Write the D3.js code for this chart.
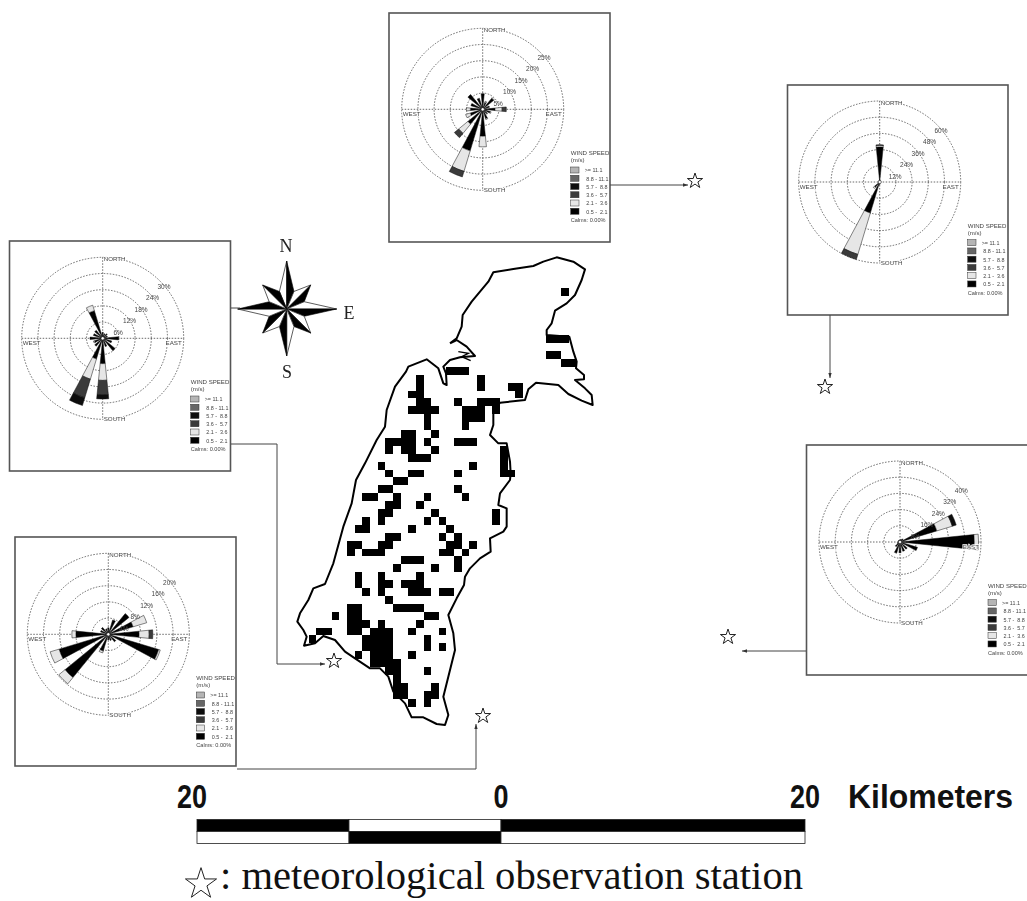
<!DOCTYPE html>
<html>
<head>
<meta charset="utf-8">
<title>Wind roses and study area</title>
<script src="https://cdn.jsdelivr.net/npm/d3@7"></script>
<style>
  html, body { margin: 0; padding: 0; background: #fff; }
  svg { display: block; }
  text { font-family: "Liberation Sans", Arial, sans-serif; }
</style>
</head>
<body>
<svg id="chart" width="1027" height="901"></svg>
<script>
// speed classes, same order as the columns of the rose tables
var speedLabels = [">= 11.1", "8.8 - 11.1", "5.7 -  8.8", "3.6 -  5.7", "2.1 -  3.6", "0.5 -  2.1"];
var speedColors = ["#000", "#e6e6e6", "#3a3a3a", "#111", "#666", "#b5b5b5"];

// percent of time per sector, N then clockwise, columns 0.5-2.1 up to >=11.1
var roseTop = [
  [4.8], [2.2, 0.4], [4.4, 0.2], [2.2], [3.8, 2.2, 1.3], [2.4, 0.3], [1.8, 0.2], [3, 0.3],
  [8.3, 3.3], [13.4, 6.6, 1.8], [5.9, 3.7, 1.7], [4, 1.5], [3.8, 1.2], [3.8], [5.9], [3.6]
];
var roseLeft = [
  [2.2], [1.8], [2.2], [1.8], [5.9], [3.5], [5.9], [3.2],
  [9.4, 6.2, 5.4, 1.5], [8, 7.8, 7.2, 3], [3.8], [3.2, 0.4], [4.7], [3.6], [3.8], [10.7, 2.1]
];
var roseBottomLeft = [
  [1.6], [3.7], [6.6], [6.4, 3.5], [7.6, 2.5, 0.9], [13, 0.4], [2.4], [1.6],
  [1.4], [4.3, 0.5], [13.8, 2], [12.7, 2.3], [8, 1], [2], [2.2], [1.4]
];
var roseRightTop = [
  [26, 1.2, 0.4], [1], [1], [1], [1], [1], [1], [1],
  [2], [24, 32, 4], [5, 1.2], [1], [1], [1], [1], [1]
];
var roseRightBottom = [
  [1], [1.5], [2], [19, 8, 0, 2], [36.7, 2.1], [9], [4.6], [4.8],
  [5.3], [5.8], [3], [1.5], [1], [1], [1], [1]
];
var roseTicksTop = [5, 10, 15, 20, 25];
var roseTicksLeft = [6, 12, 18, 24, 30];
var roseTicksBottomLeft = [4, 8, 12, 16, 20];
var roseTicksRightTop = [12, 24, 36, 48, 60];
var roseTicksRightBottom = [8, 16, 24, 32, 40];

// land cells of the map as [row, columns], counted from one reference cell
var mapCells = [
  [-41, [30]], [-35, [28, 29, 30]], [-33, [28, 29]], [-32, [30, 31]],
  [-31, [15, 16, 17]], [-30, [11, 19]], [-29, [11, 19, 23, 24]], [-28, [10, 11, 24]],
  [-27, [11, 12, 16, 19, 20, 21]], [-26, [10, 11, 12, 13, 17, 18, 19, 21]], [-25, [12, 17, 18, 19]],
  [-24, [12, 17]], [-23, [9, 10, 13]], [-22, [7, 8, 9, 10, 12, 16, 17, 18]], [-21, [7, 9, 10, 13, 22]],
  [-20, [10, 11, 12, 22]], [-19, [6, 18, 22]], [-18, [7, 10, 11, 16, 22, 23]], [-17, [8, 9]],
  [-16, [6, 7, 16]], [-15, [4, 5, 8, 12, 17]], [-14, [7, 8, 11]], [-13, [6, 7, 13, 21]],
  [-12, [4, 6, 12, 14, 21]], [-11, [3, 4, 10, 15]], [-10, [7, 8, 14, 16]], [-9, [2, 3, 6, 7, 15, 16, 18]],
  [-8, [2, 4, 5, 6, 14, 15, 17]], [-7, [9, 10, 11, 16]], [-6, [8, 13, 16]], [-5, [3, 6, 11]],
  [-4, [3, 6, 7, 9, 10, 11]], [-3, [4, 6, 10, 11, 12, 14, 15]], [-2, [7]], [-1, [2, 3, 8, 9, 10, 11]],
  [0, [0, 2, 3, 12, 13]], [1, [2, 3, 4, 6, 11]], [2, [-2, -1, 2, 3, 5, 6, 7, 10, 14]], [3, [-3, 4, 5, 6, 7, 12]],
  [4, [4, 5, 6, 7, 12, 14]], [5, [3, 5, 6, 7, 10]], [6, [5, 6, 7, 8]], [7, [7, 8, 12]],
  [8, [8]], [9, [8, 9, 13]], [10, [8, 9, 12, 13]], [11, [10, 12]]
];

// coastline in map units, clockwise from the bay on the north-west side
var coastline = [
  [510, 310], [530, 295], [545, 260], [548, 225], [575, 185], [600, 155], [625, 125], [640, 97],
  [700, 87], [760, 78], [790, 65], [830, 52], [880, 65], [915, 88], [905, 120], [885, 165],
  [860, 190], [825, 212], [815, 250], [800, 270], [800, 285], [868, 290], [880, 335], [890, 365],
  [888, 385], [912, 405], [912, 418], [885, 420], [915, 445], [935, 465], [938, 495], [905, 482],
  [865, 462], [835, 435], [768, 428], [745, 448], [735, 480], [660, 488], [640, 515], [640, 555],
  [630, 585], [655, 610], [680, 610], [690, 665], [692, 700], [690, 720], [660, 760], [655, 795],
  [680, 805], [680, 860], [670, 875], [630, 895], [632, 935], [600, 955], [570, 985], [555, 1010],
  [552, 1035], [530, 1075], [505, 1125], [520, 1180], [525, 1230], [510, 1290], [490, 1370], [505, 1425],
  [495, 1455], [470, 1452], [430, 1432], [395, 1432], [375, 1390], [340, 1355], [325, 1310], [300, 1285],
  [270, 1285], [225, 1255], [195, 1235], [165, 1200], [130, 1188], [105, 1210], [72, 1217], [80, 1190],
  [70, 1170], [52, 1145], [60, 1120], [85, 1080], [100, 1045], [135, 1032], [160, 970], [190, 860],
  [215, 790], [228, 720], [255, 670], [290, 600], [315, 560], [320, 510], [345, 440], [378, 395],
  [385, 380], [440, 358], [475, 385], [490, 430], [500, 435], [498, 400], [490, 380], [510, 360],
  [540, 352], [585, 348], [560, 320], [530, 300], [510, 310]
];
var bayIslet = [[535, 335], [565, 340], [545, 350], [572, 362]];

var compassLengths = [48, 34, 50, 34, 47, 34, 49, 34];
var scaleSegments = [[-20, -10], [-10, 0], [0, 20]];
var scaleLabels = [-20, 0, 20];

var svg = d3.select("#chart");

var defs = svg.append("defs");
defs.append("filter").attr("id", "soft")
  .append("feGaussianBlur").attr("stdDeviation", 0.35);

var bearingStep = 22.5 * Math.PI / 180;

function drawRose(frame, rows, ticks) {
  var r = d3.scaleLinear().domain([0, ticks[ticks.length - 1]]).range([0, 81]);
  var g = svg.append("g").attr("filter", "url(#soft)");
  g.append("rect")
    .attr("x", frame.x).attr("y", frame.y).attr("width", frame.w).attr("height", frame.h)
    .attr("fill", "#fff").attr("stroke", "#555").attr("stroke-width", 1.6);

  var plot = g.append("g").attr("transform", "translate(" + frame.cx + "," + frame.cy + ")");

  plot.selectAll("circle.ring").data(ticks).join("circle")
    .attr("class", "ring").attr("r", function(d) { return r(d); })
    .attr("fill", "none").attr("stroke", "#444").attr("stroke-width", 0.8).attr("stroke-dasharray", "1.5 1.5");
  plot.append("line").attr("x1", -81).attr("x2", 81)
    .attr("stroke", "#444").attr("stroke-width", 0.8).attr("stroke-dasharray", "1.5 1.5");
  plot.append("line").attr("y1", -81).attr("y2", 81)
    .attr("stroke", "#444").attr("stroke-width", 0.8).attr("stroke-dasharray", "1.5 1.5");

  var arc = d3.arc();
  var wedges = [];
  rows.forEach(function(row, sector) {
    var stops = Array.from(d3.cumsum(row));
    row.forEach(function(v, k) {
      if (v > 0) wedges.push({ sector: sector, k: k, from: k ? stops[k - 1] : 0, to: stops[k] });
    });
  });
  plot.selectAll("path.wedge").data(wedges).join("path")
    .attr("class", "wedge")
    .attr("fill", function(d) { return speedColors[d.k]; })
    .attr("stroke", "#111").attr("stroke-width", 0.5)
    .attr("d", function(d) {
      return arc({
        innerRadius: r(d.from), outerRadius: r(d.to),
        startAngle: d.sector * bearingStep - 0.1, endAngle: d.sector * bearingStep + 0.1
      });
    });
  plot.append("circle").attr("r", 1.6).attr("fill", "#fff").attr("stroke", "#222").attr("stroke-width", 0.5);

  plot.selectAll("text.tick").data(ticks).join("text")
    .attr("class", "tick")
    .attr("x", function(d) { return r(d) * Math.SQRT1_2 + 4; })
    .attr("y", function(d) { return -r(d) * Math.SQRT1_2 + 8; })
    .attr("text-anchor", "middle").attr("font-size", 6.5).attr("fill", "#444")
    .text(function(d) { return d + "%"; });

  var compassText = [
    { t: "NORTH", x: 1, y: -77, a: "start" }, { t: "SOUTH", x: 1, y: 83, a: "start" },
    { t: "WEST", x: -80, y: 7, a: "start" }, { t: "EAST", x: 79, y: 7, a: "end" }
  ];
  plot.selectAll("text.dir").data(compassText).join("text")
    .attr("class", "dir")
    .attr("x", function(d) { return d.x; }).attr("y", function(d) { return d.y; })
    .attr("text-anchor", function(d) { return d.a; })
    .attr("font-size", 6.2).attr("fill", "#444")
    .attr("paint-order", "stroke").attr("stroke", "#fff").attr("stroke-width", 1.5)
    .text(function(d) { return d.t; });

  var legend = plot.append("g").attr("transform", "translate(88,44)");
  legend.append("text").attr("y", 2).attr("font-size", 6.1).attr("fill", "#444").text("WIND SPEED");
  legend.append("text").attr("y", 9).attr("font-size", 6.1).attr("fill", "#444").text("(m/s)");
  var classes = speedLabels.map(function(label, i) {
    return { label: label, color: speedColors[speedColors.length - 1 - i] };
  });
  legend.selectAll("rect").data(classes).join("rect")
    .attr("x", 0).attr("width", 8.3).attr("height", 6)
    .attr("y", function(d, i) { return 13.7 + i * 8.25; })
    .attr("fill", function(d) { return d.color; })
    .attr("stroke", "#333").attr("stroke-width", 0.5);
  legend.selectAll("text.cls").data(classes).join("text")
    .attr("class", "cls")
    .attr("x", function(d, i) { return i ? 15.5 : 14; })
    .attr("y", function(d, i) { return 19 + i * 8.25; })
    .attr("font-size", 5.4).attr("fill", "#444").attr("xml:space", "preserve")
    .text(function(d) { return d.label; });
  legend.append("text").attr("y", 69).attr("font-size", 5.6).attr("fill", "#444").text("Calms: 0.00%");
}

drawRose({ x: 389, y: 13, w: 221, h: 229, cx: 482.7, cy: 109.3 }, roseTop, roseTicksTop);
drawRose({ x: 9.5, y: 241, w: 221, h: 230, cx: 102.7, cy: 338.3 }, roseLeft, roseTicksLeft);
drawRose({ x: 15, y: 537, w: 221, h: 229, cx: 108.3, cy: 634.3 }, roseBottomLeft, roseTicksBottomLeft);
drawRose({ x: 787.5, y: 85, w: 220.5, h: 230, cx: 879.7, cy: 182 }, roseRightTop, roseTicksRightTop);
drawRose({ x: 806.5, y: 445, w: 225, h: 230, cx: 900, cy: 542 }, roseRightBottom, roseTicksRightBottom);

// map: cells on a regular grid, coast in its own units
var col = d3.scaleLinear().domain([0, 30]).range([331.7, 561.2]);
var row = d3.scaleLinear().domain([0, -41]).range([611.7, 287.8]);
var mapX = d3.scaleLinear().domain([0, 990]).range([280, 610]);
var mapY = d3.scaleLinear().domain([0, 1530]).range([240, 750]);

var cells = [];
mapCells.forEach(function(d) {
  d[1].forEach(function(c) { cells.push({ r: d[0], c: c }); });
});
var mapLine = d3.line().x(function(d) { return mapX(d[0]); }).y(function(d) { return mapY(d[1]); });
var mapLayer = svg.append("g").attr("filter", "url(#soft)");
// snapped to whole pixels so neighbouring cells join without a seam
mapLayer.selectAll("rect").data(cells).join("rect")
  .attr("x", function(d) { return Math.round(col(d.c)); })
  .attr("y", function(d) { return Math.round(row(d.r)); })
  .attr("width", function(d) { return Math.round(col(d.c + 1)) - Math.round(col(d.c)); })
  .attr("height", function(d) { return Math.round(row(d.r + 1)) - Math.round(row(d.r)); })
  .attr("shape-rendering", "crispEdges")
  .attr("fill", "#000");
mapLayer.append("path")
  .attr("d", mapLine(coastline))
  .attr("fill", "none").attr("stroke", "#000").attr("stroke-width", 2).attr("stroke-linejoin", "round");
mapLayer.append("path")
  .attr("d", mapLine(bayIslet))
  .attr("fill", "none").attr("stroke", "#000").attr("stroke-width", 1.4);

// compass star, every point split in a black and a white half
var compass = svg.append("g").attr("transform", "translate(286.7,309)").attr("filter", "url(#soft)");
var notch = 19;
var rad = function(deg) { return deg * Math.PI / 180; };
var polar = function(len, deg) { return [len * Math.sin(rad(deg)), -len * Math.cos(rad(deg))]; };
compassLengths.forEach(function(len, i) {
  var bearing = i * 45;
  compass.append("path")
    .attr("d", d3.line()([[0, 0], polar(len, bearing), polar(notch, bearing - 22.5)]) + "Z")
    .attr("fill", "#fff").attr("stroke", "#333").attr("stroke-width", 0.8);
  compass.append("path")
    .attr("d", d3.line()([[0, 0], polar(len, bearing), polar(notch, bearing + 22.5)]) + "Z")
    .attr("fill", "#000").attr("stroke", "#000").attr("stroke-width", 0.6);
});
var compassLetters = [["N", 286, 252], ["E", 349, 319], ["S", 287, 378]];
svg.selectAll("text.letter").data(compassLetters).join("text")
  .attr("class", "letter")
  .attr("x", function(d) { return d[1]; }).attr("y", function(d) { return d[2]; })
  .attr("text-anchor", "middle")
  .style("font-family", "'Liberation Serif', serif").attr("font-size", 18).attr("fill", "#222")
  .text(function(d) { return d[0]; });

// leader lines from each rose to its station
defs.append("marker").attr("id", "tip")
  .attr("viewBox", "0 0 6 6").attr("refX", 6).attr("refY", 3)
  .attr("markerWidth", 5).attr("markerHeight", 5).attr("orient", "auto")
  .append("path").attr("d", "M0,1L6,3L0,5Z").attr("fill", "#333");
var leaders = [
  [[610, 185], [688, 185]],
  [[830, 315], [830, 378]],
  [[806, 651], [742, 651]],
  [[231, 444], [277, 444], [277, 664], [325, 664]],
  [[237, 769], [476, 769], [476, 724]]
];
svg.selectAll("path.leader").data(leaders).join("path")
  .attr("class", "leader")
  .attr("d", function(d) { return d3.line()(d); })
  .attr("fill", "none").attr("stroke", "#444").attr("stroke-width", 1)
  .attr("marker-end", "url(#tip)");
svg.append("line").attr("x1", 231).attr("x2", 240).attr("y1", 308).attr("y2", 308).attr("stroke", "#444");

var star = d3.symbol().type(d3.symbolStar);
var stations = [[695, 181], [825, 387], [728, 637], [334, 661], [483, 716]];
svg.selectAll("path.station").data(stations).join("path")
  .attr("class", "station")
  .attr("transform", function(d) { return "translate(" + d[0] + "," + d[1] + ")"; })
  .attr("d", star.size(72)())
  .attr("fill", "#fff").attr("stroke", "#222").attr("stroke-width", 1);

// scale bar
var km = d3.scaleLinear().domain([-20, 20]).range([197, 805]);
var bar = svg.append("g");
scaleSegments.forEach(function(seg, i) {
  bar.append("rect")
    .attr("x", km(seg[0])).attr("width", km(seg[1]) - km(seg[0]))
    .attr("y", 819.5).attr("height", 12)
    .attr("fill", i === 1 ? "#fff" : "#000").attr("stroke", "#222").attr("stroke-width", 0.8);
  bar.append("rect")
    .attr("x", km(seg[0])).attr("width", km(seg[1]) - km(seg[0]))
    .attr("y", 831.5).attr("height", 12)
    .attr("fill", i === 1 ? "#000" : "#fff").attr("stroke", "#222").attr("stroke-width", 0.8);
});
bar.selectAll("text").data(scaleLabels).join("text")
  .attr("x", function(d) { return km(d) + (d < 0 ? -5 : 0); })
  .attr("y", 808).attr("text-anchor", "middle")
  .attr("font-size", 33).attr("font-weight", "bold").attr("fill", "#111")
  .attr("textLength", function(d) { return d === 0 ? 15 : 30; })
  .attr("lengthAdjust", "spacingAndGlyphs")
  .text(function(d) { return Math.abs(d); });
bar.append("text").attr("x", 848).attr("y", 808)
  .attr("font-size", 33).attr("font-weight", "bold").attr("fill", "#111")
  .attr("textLength", 165).attr("lengthAdjust", "spacingAndGlyphs")
  .text("Kilometers");

svg.append("path")
  .attr("transform", "translate(201,884)")
  .attr("d", star.size(300)())
  .attr("fill", "#fff").attr("stroke", "#222").attr("stroke-width", 1);
svg.append("text").attr("x", 220).attr("y", 889)
  .style("font-family", "'Liberation Serif', serif")
  .attr("font-size", 41).attr("fill", "#111")
  .attr("textLength", 583).attr("lengthAdjust", "spacingAndGlyphs")
  .text(": meteorological observation station");
</script>
</body>
</html>
